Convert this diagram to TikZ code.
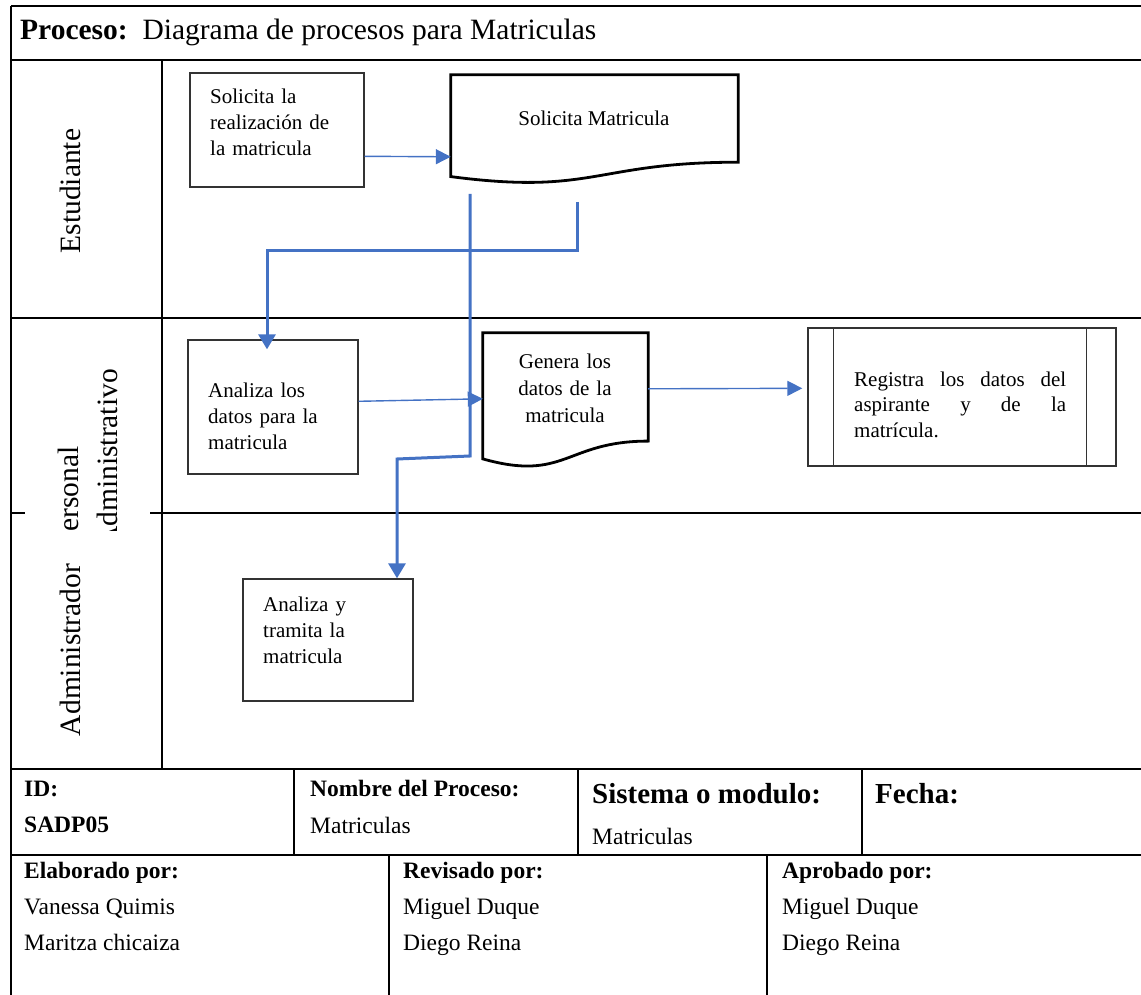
\documentclass[tikz,border=0pt]{standalone}
\usepackage{fontspec}
\setmainfont{Liberation Serif}
\usetikzlibrary{arrows.meta,calc}
\definecolor{flowblue}{HTML}{4472C4}
\begin{document}
\begin{tikzpicture}[x=1pt,y=-1pt,
  frame/.style={line width=2.2pt, black},
  procbox/.style={rectangle, draw=black!80, line width=1.4pt, inner sep=0pt},
  docshape/.style={draw=black, line width=2.8pt, line join=miter},
  ghost/.style={rectangle, draw=none, inner sep=0pt},
  flowthin/.style={draw=flowblue, line width=1.4pt, -{Triangle[length=15pt,width=15pt]}},
  flowthick/.style={draw=flowblue, line width=3pt, -{Triangle[length=15pt,width=17pt]}},
  boxtxt/.style={inner sep=0pt, anchor=base west, align=left, text width=160pt, font=\fontsize{21}{26}\selectfont},
  lanelbl/.style={inner sep=0pt, rotate=90, font=\fontsize{29.5}{35}\selectfont},
  tlabel/.style={inner sep=0pt, anchor=base west, font=\bfseries\fontsize{23.5}{28}\selectfont},
  tbig/.style={inner sep=0pt, anchor=base west, font=\bfseries\fontsize{29}{34}\selectfont},
  tval/.style={inner sep=0pt, anchor=base west, font=\fontsize{23.5}{28}\selectfont}
]
\useasboundingbox (0,0) rectangle (1141,995);

% ---------- frame ----------
\draw[frame] (11,6) -- (1141,6);
\draw[frame] (11,6) -- (11,995);
\draw[frame] (11,60) -- (1141,60);
\draw[frame] (162,60) -- (162,769);
\draw[frame] (11,318) -- (1141,318);
\draw[frame] (11,513) -- (25,513);
\draw[frame] (150,513) -- (1141,513);
\draw[frame] (11,769) -- (1141,769);
\draw[frame] (294,769) -- (294,855);
\draw[frame] (578,769) -- (578,855);
\draw[frame] (862,769) -- (862,855);
\draw[frame] (11,855) -- (1141,855);
\draw[frame] (389,855) -- (389,995);
\draw[frame] (767,855) -- (767,995);

% ---------- title ----------
\node[inner sep=0pt, anchor=base west, font=\fontsize{29.5}{34}\selectfont] (title) at (20,40)
  {\textbf{Proceso:}\ \ Diagrama de procesos para Matriculas};

% ---------- lane labels ----------
\node[lanelbl, anchor=base] (lblE) at (80,191) {Estudiante};
\begin{scope}
  \clip (20,300) rectangle (150,530);
  \node[lanelbl, anchor=base west] (lblP1) at (78,548) {Personal};
  \node[lanelbl, anchor=base west] (lblP2) at (117,548) {Administrativo};
\end{scope}
\node[lanelbl, anchor=base] (lblA) at (80,650) {Administrador};

% ---------- shapes ----------
\node[procbox, minimum width=174pt, minimum height=114pt] (solbox) at (277,130) {};
\node[boxtxt] (soltxt) at (210,104) {Solicita la\\realización de\\la matricula};

\node[ghost, minimum width=287pt, minimum height=109pt] (docA) at (594.5,129.5) {};
\draw[docshape] (docA.north west) -- (docA.north east) -- ($(docA.north east)+(0,87.4)$)
  .. controls ($(docA.north)+(0,87.4)$) and ($(docA.north)+(0,120.7)$) .. ($(docA.north west)+(0,101.8)$) -- cycle;
\node[inner sep=0pt, anchor=base, font=\fontsize{21}{26}\selectfont] (docAtxt) at (594,126) {Solicita Matricula};

\node[procbox, minimum width=170pt, minimum height=134pt] (anbox) at (273,407) {};
\node[boxtxt] (antxt) at (208,397) {Analiza los\\datos para la\\matricula};

\node[ghost, minimum width=165pt, minimum height=135pt] (docB) at (565.5,400.5) {};
\draw[docshape] (docB.north west) -- (docB.north east) -- ($(docB.north east)+(0,108.3)$)
  .. controls ($(docB.north)+(0,108.3)$) and ($(docB.north)+(0,149.4)$) .. ($(docB.north west)+(0,126.1)$) -- cycle;
\node[inner sep=0pt, anchor=base, align=center, text width=150pt, font=\fontsize{21}{27}\selectfont] (docBtxt) at (565,368) {Genera los\\datos de la\\matricula};

\node[procbox, minimum width=308pt, minimum height=138pt] (reg) at (962,397) {};
\draw[draw=black!80, line width=1.4pt] ($(reg.north west)+(26,0)$) -- ($(reg.south west)+(26,0)$);
\draw[draw=black!80, line width=1.4pt] ($(reg.north east)+(-30,0)$) -- ($(reg.south east)+(-30,0)$);
\node[inner sep=0pt, anchor=base west, align=justify, text width=212pt, font=\fontsize{21}{25.5}\selectfont] (regtxt) at (854,386)
  {Registra los datos del\linebreak aspirante y de la\linebreak matrícula.};

\node[procbox, minimum width=170pt, minimum height=122pt] (adbox) at (328,640) {};
\node[boxtxt] (adtxt) at (263,611) {Analiza y\\tramita la\\matricula};

% ---------- connectors ----------
\draw[flowthin] ($(solbox.north east)+(0,84)$) -- ($(docA.north west)+(0,82)$);
\draw[flowthin] ($(anbox.north east)+(0,62)$) -- ($(docB.north west)+(0,66)$);
\draw[flowthin, shorten >=5pt] ($(docB.north east)+(0,56)$) -- ($(reg.north west)+(0,61)$);

\coordinate (ra1) at (470,194);
\coordinate (ra2) at (470,456);
\coordinate (ra3) at (397,459);
\draw[flowthick] (ra1) -- (ra2) -- (ra3) -- (adbox.north east -| ra3);

\coordinate (rb1) at (577,202);
\coordinate (rb2) at (577,251);
\coordinate (rb3) at (267,251);
\draw[flowthick, shorten >=-10pt] (rb1) -- (rb2) -- (rb3) -- (anbox.north -| rb3);

% ---------- tables ----------
\node[tlabel] (tid) at (24,796) {ID:};
\node[tlabel] (tidv) at (24,832) {SADP05};
\node[tlabel] (tnom) at (310,796) {Nombre del Proceso:};
\node[tval] (tnomv) at (310,833) {Matriculas};
\node[tbig] (tsis) at (592,803) {Sistema o modulo:};
\node[tval] (tsisv) at (592,844) {Matriculas};
\node[tbig] (tfec) at (875,803) {Fecha:};

\node[tlabel] (telab) at (24,878) {Elaborado por:};
\node[tval] (telab1) at (24,914) {Vanessa Quimis};
\node[tval] (telab2) at (24,950) {Maritza chicaiza};
\node[tlabel] (trev) at (403,878) {Revisado por:};
\node[tval] (trev1) at (403,914) {Miguel Duque};
\node[tval] (trev2) at (403,950) {Diego Reina};
\node[tlabel] (tapr) at (782,878) {Aprobado por:};
\node[tval] (tapr1) at (782,914) {Miguel Duque};
\node[tval] (tapr2) at (782,950) {Diego Reina};
\end{tikzpicture}
\end{document}
